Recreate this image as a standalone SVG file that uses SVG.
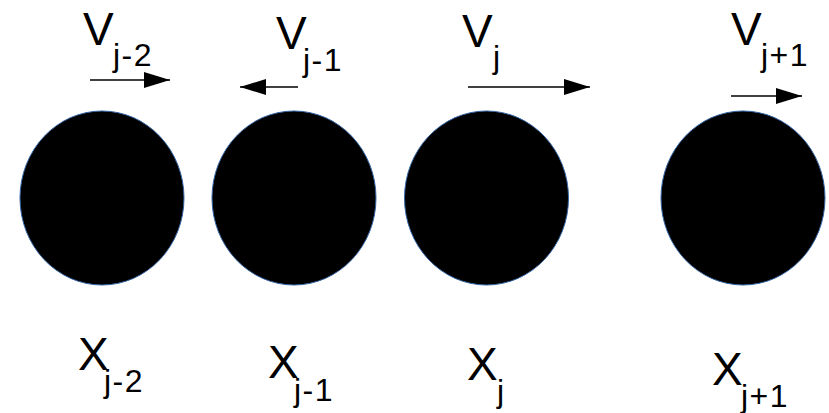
<svg xmlns="http://www.w3.org/2000/svg" width="829" height="413" viewBox="0 0 829 413">
<style>
.ball{fill:#000;stroke:#3465a4;stroke-width:1}
.lbl{font-family:"Liberation Sans",Arial,sans-serif;font-size:46px;fill:#000}
.sub{font-family:"Liberation Sans",Arial,sans-serif;font-size:32px;letter-spacing:1.5px;fill:#000}
.arr{stroke:#000;stroke-width:1.5;fill:none;marker-end:url(#ah)}
</style>
<defs>
<marker id="ah" markerUnits="userSpaceOnUse" markerWidth="26" markerHeight="16" refX="26" refY="8" orient="auto" viewBox="0 0 26 16">
<path d="M0,0 L26,8 L0,16 z" fill="#000"/>
</marker>
</defs>
<g id="node-xj-2">
<ellipse class="ball" cx="102" cy="198" rx="82" ry="87"/>
<text class="lbl" x="78" y="370">X</text><text class="sub" x="104" y="392">j-2</text>
</g>
<g id="node-xj-1">
<ellipse class="ball" cx="294" cy="198" rx="82" ry="87"/>
<text class="lbl" x="268" y="378">X</text><text class="sub" x="294" y="401">j-1</text>
</g>
<g id="node-xj">
<ellipse class="ball" cx="486.5" cy="198" rx="82" ry="87"/>
<text class="lbl" x="467" y="380">X</text><text class="sub" x="497" y="402">j</text>
</g>
<g id="node-xj+1">
<ellipse class="ball" cx="743" cy="198" rx="82" ry="87"/>
<text class="lbl" x="712" y="385">X</text><text class="sub" x="741" y="407">j+1</text>
</g>
<g id="connectors">
<line class="arr" x1="90" y1="80" x2="170" y2="80"/>
<line class="arr" x1="298" y1="87" x2="240" y2="87"/>
<line class="arr" x1="468" y1="87" x2="590" y2="87"/>
<line class="arr" x1="731" y1="96" x2="802" y2="96"/>
</g>
<g id="velocity-labels">
<text class="lbl" x="83" y="45">V</text><text class="sub" x="113" y="66">j-2</text>
<text class="lbl" x="276" y="49">V</text><text class="sub" x="303" y="71">j-1</text>
<text class="lbl" x="462" y="47">V</text><text class="sub" x="493" y="68">j</text>
<text class="lbl" x="731" y="45">V</text><text class="sub" x="761" y="66">j+1</text>
</g>
</svg>
